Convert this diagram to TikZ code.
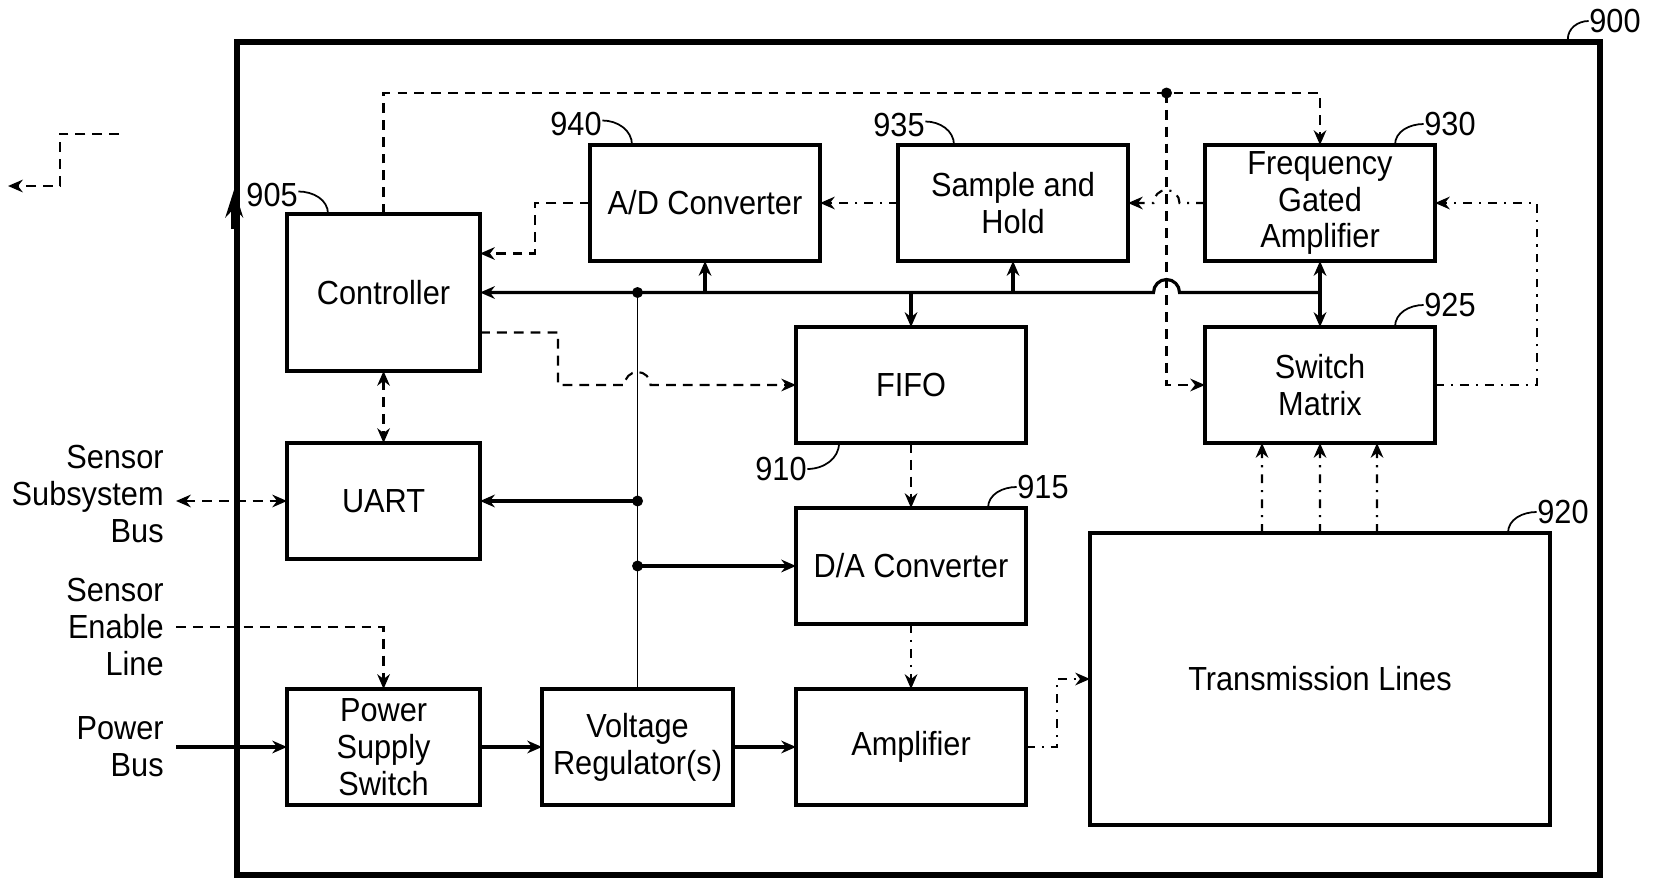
\documentclass[tikz,border=0pt]{standalone}
\usepackage{fontspec}
\setmainfont[FakeStretch=0.92]{Liberation Sans}
\usetikzlibrary{arrows.meta, positioning, calc}

\begin{document}
\begin{tikzpicture}[>={Stealth[length=4.2pt,width=3.6pt]},
  font=\fontsize{9.5pt}{10.5pt}\selectfont,
  blk/.style={draw,line width=0.9pt,minimum width=2.3cm,minimum height=1.16cm,align=center,inner sep=1pt,outer sep=0pt},
  bus/.style={line width=0.9pt},
  sig/.style={line width=0.6pt,dash pattern=on 2.8pt off 2pt},
  dsig/.style={line width=0.6pt,dash pattern=on 2.5pt off 2pt on 0.6pt off 2pt},
  ref/.style={inner sep=0pt},
  lead/.style={line width=0.5pt}]
\fill[white] (0,0) rectangle (16.53,-8.82);
\node[draw,line width=1.6pt,minimum width=13.63cm,minimum height=8.33cm] (sys) at (9.185,-4.585) {};
\draw[line width=1.6pt,-{Stealth[length=8pt,width=5pt]}] ($(sys.north west)+(0,-1.9)$) -- ($(sys.north west)+(0,-1.5)$);

% blocks
\node[blk,minimum width=1.93cm,minimum height=1.57cm] (ctrl) at (3.835,-2.925) {Controller};
\node[blk,minimum width=1.93cm,below=0.72cm of ctrl] (uart) {UART};
\node[blk,minimum width=1.93cm,below=1.30cm of uart] (pss) {Power\\Supply\\Switch};
\node[blk,minimum width=1.91cm,right=0.62cm of pss] (vreg) {Voltage\\Regulator(s)};
\node[blk,right=0.63cm of vreg] (amp) {Amplifier};
\node[blk,above=0.65cm of amp] (dac) {D/A Converter};
\node[blk,above=0.65cm of dac] (fifo) {FIFO};
\node[blk] (adc) at (7.05,-2.03) {A/D Converter};
\node[blk,right=0.78cm of adc] (sah) {Sample and\\Hold};
\node[blk,right=0.77cm of sah] (fga) {Frequency\\Gated\\Amplifier};
\node[blk,below=0.66cm of fga] (sw) {Switch\\Matrix};
\node[blk,minimum width=4.6cm,minimum height=2.92cm] (tl) at (13.2,-6.79) {Transmission Lines};

% outside lines
\node[align=right,left=1.11cm of uart,yshift=0.07cm] (ssb) {Sensor\\Subsystem\\Bus};
\node[align=right,anchor=east] (sel) at (1.76,-6.27) {Sensor\\Enable\\Line};
\node[align=right,left=1.11cm of pss] (pbus) {Power\\Bus};
\coordinate (extin) at (1.19,-1.34);
\coordinate (extout) at (0.08,-1.86);
\draw[sig,->] (extin) -- ++(-0.59,0) |- (extout);

% bus
\coordinate (tap) at (11.665,-0.93);
\coordinate (pj1) at (vreg.north |- ctrl.east);
\coordinate (pj2) at (vreg.north |- uart.east);
\coordinate (pj3) at (vreg.north |- dac.west);
\draw[bus,->] (fga.south |- ctrl.east) -- ($(tap |- ctrl.east)+(0.13,0)$) arc[start angle=0,end angle=180,radius=0.13] -- (ctrl.east);
\draw[bus,<->] (fga) -- (sw);
\draw[bus,->] (adc.south |- ctrl.east) -- (adc.south);
\draw[bus,->] (sah.south |- ctrl.east) -- (sah.south);
\draw[bus,->] (fifo.north |- ctrl.east) -- (fifo.north);
\draw[line width=0.5pt] (pj1) -- (vreg.north);
\draw[bus,->] (pj2) -- (uart.east);
\draw[bus,->] (pj3) -- (dac.west);
\foreach \p in {pj1,pj2,pj3,tap} \fill (\p) circle (0.055);

% control and signal lines
\draw[sig,->] (ctrl.north) |- (tap) -| (fga.north);
\draw[sig,->] (tap) |- (sw.west);
\draw[sig,->] (adc.west) -- ++(-0.55,0) |- ($(ctrl.east)+(0,0.39)$);
\draw[sig,->] ($(ctrl.east)+(0,-0.4)$) -- ++(0.78,0) |- ($(pj1 |- fifo.west)+(-0.13,0)$) arc[start angle=180,end angle=0,radius=0.13] -- (fifo.west);
\draw[dsig,->] (fga.west) -- ($(tap |- fga.west)+(0.13,0)$) arc[start angle=0,end angle=180,radius=0.13] -- (sah.east);
\draw[dsig,->] (sah) -- (adc);
\draw[dsig,->] (sw.east) -- ++(1.02,0) |- (fga.east);
\draw[sig,<->] (ctrl) -- (uart);
\draw[sig,<->] (ssb.east |- uart.west) -- (uart.west);
\draw[sig,->] (sel.east) -| (pss.north);
\draw[bus,->] (pbus.east |- pss.west) -- (pss.west);
\draw[bus,->] (pss) -- (vreg);
\draw[bus,->] (vreg) -- (amp);
\draw[sig,->] (fifo) -- (dac);
\draw[dsig,->] (dac) -- (amp);
\draw[dsig,->] (amp.east) -- ++(0.31,0) |- (tl.west);
\foreach \dx in {-0.58,0,0.57}
  \draw[dsig,->] ([xshift=\dx cm]tl.north) -- ([xshift=\dx cm]sw.south);

% reference numerals
\node[ref] (n900) at (16.15,-0.21) {900};
\node[ref] (n905) at (2.72,-1.95) {905};
\node[ref] (n910) at (7.81,-4.69) {910};
\node[ref] (n915) at (10.43,-4.87) {915};
\node[ref] (n920) at (15.63,-5.12) {920};
\node[ref] (n925) at (14.50,-3.05) {925};
\node[ref] (n930) at (14.50,-1.24) {930};
\node[ref] (n935) at (8.99,-1.25) {935};
\node[ref] (n940) at (5.76,-1.24) {940};
\draw[lead] ([xshift=-0.35cm]sys.north east) to[out=90,in=180] (n900.west);
\draw[lead] ([yshift=1pt]n905.east) to[out=0,in=90] ([xshift=0.41cm]ctrl.north west);
\draw[lead] (n910.east) to[out=0,in=-90] ([xshift=0.43cm]fifo.south west);
\draw[lead] ([xshift=-0.38cm]dac.north east) to[out=90,in=180] (n915.west);
\draw[lead] ([xshift=-0.42cm]tl.north east) to[out=90,in=180] (n920.west);
\draw[lead] ([xshift=-0.40cm]sw.north east) to[out=90,in=180] (n925.west);
\draw[lead] ([xshift=-0.40cm]fga.north east) to[out=90,in=180] (n930.west);
\draw[lead] ([yshift=1pt]n935.east) to[out=0,in=90] ([xshift=0.56cm]sah.north west);
\draw[lead] ([yshift=1pt]n940.east) to[out=0,in=90] ([xshift=0.42cm]adc.north west);
\end{tikzpicture}
\end{document}
